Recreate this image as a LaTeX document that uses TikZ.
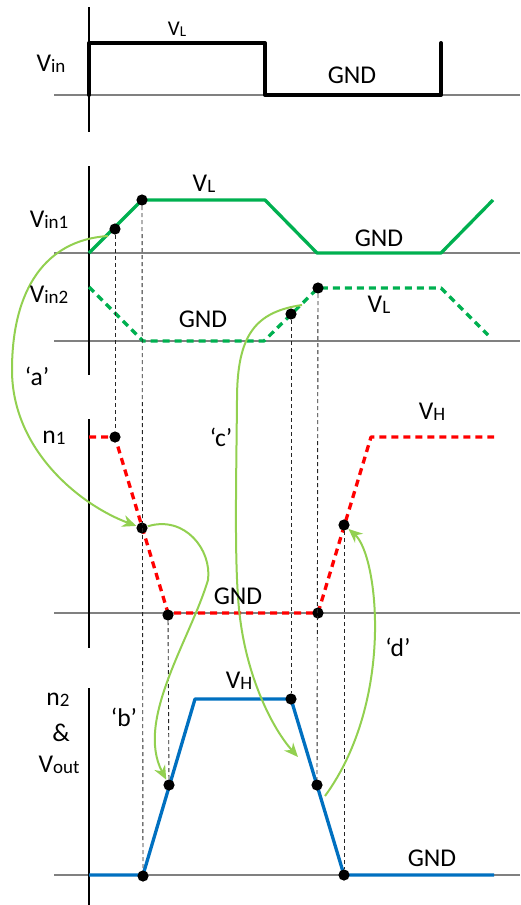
\documentclass[tikz,border=0pt]{standalone}
\usepackage{fontspec}
\setmainfont{Carlito}
\usepackage{tikz}
\usetikzlibrary{arrows.meta}
\definecolor{greenclr}{HTML}{00B050}
\definecolor{limeclr}{HTML}{92D050}
\definecolor{redclr}{HTML}{FF0000}
\definecolor{blueclr}{HTML}{0070C0}
\definecolor{axisclr}{HTML}{808080}
\newcommand\lo[1]{\raisebox{-0.4pt}{\fontsize{9.5}{9.5}\selectfont #1}}

\begin{document}
\begin{tikzpicture}[
    x=0.5pt, y=-0.5pt,
    font=\fontsize{12.8}{13}\selectfont,
    base/.style={draw=axisclr, line width=0.6pt},
    yaxis/.style={draw=black, line width=0.6pt},
    guide/.style={draw=black!85, line width=0.45pt, dash pattern=on 2pt off 1.5pt},
    wave/.style={line width=1.65pt, line join=round},
    dashwave/.style={wave, dash pattern=on 3.5pt off 2.5pt},
    dot/.style={circle, fill=black, inner sep=0pt, minimum size=5.6pt},
    hint/.style={draw=limeclr, line width=1pt, -{Stealth[length=7pt, width=6pt]}},
    lbl/.style={inner sep=0pt},
  ]
  \useasboundingbox (0,0) rectangle (520,905);

  % baselines and axes
  \foreach \yy in {95,253,341,613,875}
    \draw[base] (54,\yy) -- (520,\yy);
  \draw[yaxis] (89,7) -- (89,132);
  \draw[yaxis] (89,166) -- (89,375);
  \draw[yaxis] (89,419) -- (89,648);
  \draw[yaxis] (89,688) -- (89,905);

  % waveforms
  \draw[line width=2pt, line join=round, line cap=round]
    (89,95) -- (89,43) -- (265,43) -- (265,95) -- (441,95) -- (441,43);
  \draw[wave, greenclr]
    (89,253) -- (142,200) -- (265,200) -- (317,253) -- (441,253) -- (493,200);
  \draw[dashwave, greenclr]
    (89,287) -- (143,341) -- (264,341) -- (318,288) -- (441,288) -- (488,335);
  \draw[dashwave, redclr]
    (89,437) -- (115,437) -- (168,613) -- (318,613) -- (371,437) -- (494,437);
  \draw[wave, blueclr]
    (89,875) -- (143,875) -- (195,699) -- (291,699) -- (344,875) -- (494,875);

  % sample points
  \node[dot] (i1a) at (115,229) {};
  \node[dot] (i1b) at (142,200) {};
  \node[dot] (i2a) at (291,314) {};
  \node[dot] (i2b) at (318,288) {};
  \node[dot] (n1a) at (115,437) {};
  \node[dot] (n1b) at (142,528) {};
  \node[dot] (n1c) at (168,615) {};
  \node[dot] (n1d) at (318,613) {};
  \node[dot] (n1e) at (344,525) {};
  \node[dot] (n2a) at (143,876) {};
  \node[dot] (n2b) at (169,785) {};
  \node[dot] (n2c) at (291,699) {};
  \node[dot] (n2d) at (317,785) {};
  \node[dot] (n2e) at (344,875) {};

  \draw[guide] (i1a) -- (n1a);
  \draw[guide] (i1b) -- (n2a);
  \draw[guide] (n1c) -- (n2b);
  \draw[guide] (i2a) -- (n2c);
  \draw[guide] (i2b) -- (n2d);
  \draw[guide] (n1e) -- (n2e);

  % causal arrows
  \coordinate (aS) at (108,236);
  \coordinate (cS) at (302,305);
  \coordinate (cE) at (298,757);
  \coordinate (dS) at (325,796);
  \draw[hint] (aS) .. controls (45,240) and (12,290) .. (12,370)
    .. controls (12,450) and (80,505) .. (n1b);
  \draw[hint] (n1b) .. controls (185,515) and (212,550) .. (208,580)
    .. controls (190,640) and (135,720) .. (n2b);
  \draw[hint] (cS) .. controls (255,312) and (237,335) .. (237,400)
    .. controls (236,500) and (234,580) .. (241,625)
    .. controls (249,680) and (272,728) .. (cE);
  \draw[hint] (dS) .. controls (395,700) and (378,555) .. (n1e);

  % labels
  \node[lbl] (vin) at (51,64) {V\lo{in}};
  \node[lbl, font=\fontsize{10.5}{10.5}\selectfont] (vl0) at (177,29)
    {V\raisebox{-0.3pt}{\fontsize{7.5}{7.5}\selectfont L}};
  \node[lbl] (gnd0) at (352,75) {GND};
  \node[lbl] (vin1) at (49,220) {V\lo{in1}};
  \node[lbl] (vl1) at (204,184) {V\lo{L}};
  \node[lbl] (gnd1) at (379,238) {GND};
  \node[lbl] (vin2) at (49,295) {V\lo{in2}};
  \node[lbl] (gnd2) at (203,319) {GND};
  \node[lbl] (vl2) at (379,305) {V\lo{L}};
  \node[lbl] (la) at (37,376) {‘a’};
  \node[lbl] (n1lbl) at (54,438) {n\lo{1}};
  \node[lbl] (lc) at (221,437) {‘c’};
  \node[lbl] (vh1) at (432,412) {V\lo{H}};
  \node[lbl] (gnd3) at (238,596) {GND};
  \node[lbl] (ld) at (398,647) {‘d’};
  \node[lbl] (n2lbl) at (58,700) {n\lo{2}};
  \node[lbl] (amp) at (61,733) {\&};
  \node[lbl] (voutlbl) at (59,765) {V\lo{out}};
  \node[lbl] (lb) at (124,717) {‘b’};
  \node[lbl] (vh2) at (239,681) {V\lo{H}};
  \node[lbl] (gnd4) at (432,858) {GND};
\end{tikzpicture}
\end{document}
